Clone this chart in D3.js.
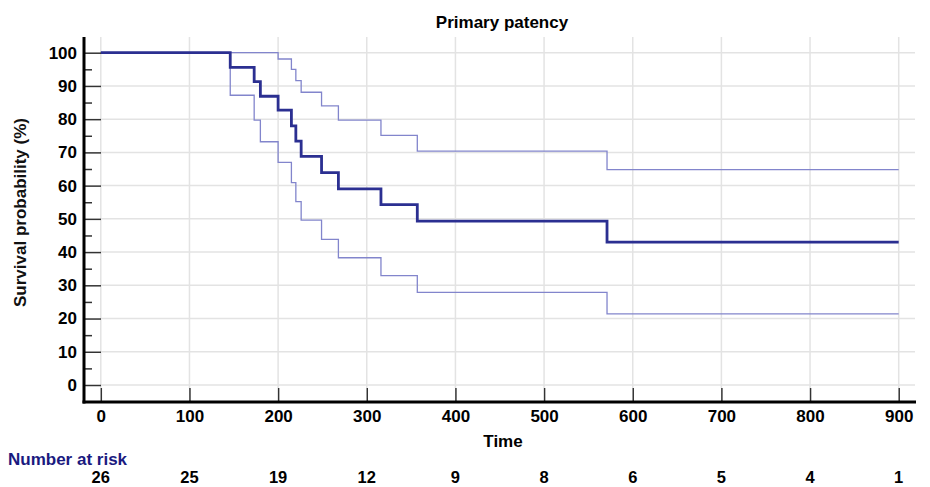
<!DOCTYPE html>
<html>
<head>
<meta charset="utf-8">
<script src="https://cdn.jsdelivr.net/npm/d3@7"></script>
<style>
  body { margin: 0; background: #fff; }
  text { font-family: "Liberation Sans", Arial, sans-serif; font-weight: bold; }
</style>
</head>
<body>
<script>
// Kaplan-Meier estimate (step after)
var kmTimes = [0, 146, 173, 180, 200, 215, 220, 226, 249, 268, 316, 357, 571, 900];
var kmSurvival = [100, 95.6, 91.3, 86.9, 82.7, 78.0, 73.4, 68.8, 63.9, 59.0, 54.3, 49.3, 43.0, 43.0];

// 95% CI upper / lower
var upperTimes = [0, 200, 215, 220, 226, 249, 268, 316, 357, 571, 900];
var upperValues = [100, 98.1, 95.0, 91.6, 88.1, 84.0, 79.7, 75.1, 70.4, 64.8, 64.8];
var lowerTimes = [0, 146, 173, 180, 200, 215, 220, 226, 249, 268, 316, 357, 571, 900];
var lowerValues = [100, 87.2, 79.7, 73.2, 67.0, 60.9, 55.2, 49.6, 43.8, 38.3, 32.9, 27.9, 21.4, 21.4];

var xTicks = [0, 100, 200, 300, 400, 500, 600, 700, 800, 900];
var yTicks = [0, 10, 20, 30, 40, 50, 60, 70, 80, 90, 100];
var yMinorTicks = [5, 15, 25, 35, 45, 55, 65, 75, 85, 95];
var riskCounts = [26, 25, 19, 12, 9, 8, 6, 5, 4, 1];

var main = function() {
  var width = 930, height = 487;
  var axisX = 84, axisY = 402;

  var svg = d3.select("body").append("svg")
    .attr("width", width)
    .attr("height", height);

  var x = d3.scaleLinear().domain([0, 900]).range([100.8, 898.7]);
  var y = d3.scaleLinear().domain([0, 100]).range([385, 52.7]);

  // grid
  var grid = svg.append("g");
  grid.selectAll(".hg").data(yTicks).enter().append("line")
    .attr("x1", x(0)).attr("x2", 915)
    .attr("y1", d => y(d)).attr("y2", d => y(d))
    .attr("stroke", "#e3e3e3").attr("stroke-width", 1.5);
  grid.selectAll(".vg").data(xTicks).enter().append("line")
    .attr("x1", d => x(d)).attr("x2", d => x(d))
    .attr("y1", 37).attr("y2", axisY - 14)
    .attr("stroke", "#e3e3e3").attr("stroke-width", 1.5);

  var stepLine = function(ts, vs) {
    return d3.line()
      .x(function(d, i) { return x(ts[i]); })
      .y(function(d, i) { return y(vs[i]); })
      .curve(d3.curveStepAfter)(vs);
  };

  svg.append("path").attr("d", stepLine(upperTimes, upperValues))
    .attr("fill", "none").attr("stroke", "#8285cc").attr("stroke-width", 1.3);
  svg.append("path").attr("d", stepLine(lowerTimes, lowerValues))
    .attr("fill", "none").attr("stroke", "#8285cc").attr("stroke-width", 1.3);
  svg.append("path").attr("d", stepLine(kmTimes, kmSurvival))
    .attr("fill", "none").attr("stroke", "#2b2f91").attr("stroke-width", 2.8);

  // y axis
  var yAxis = d3.axisLeft(y).tickValues(yTicks).tickSizeInner(-17).tickSizeOuter(0).tickPadding(7);
  var gy = svg.append("g").attr("transform", "translate(" + axisX + ",0)").call(yAxis);
  gy.select(".domain").remove();
  gy.selectAll(".tick line").attr("stroke", "#333").attr("stroke-width", 1.5);
  gy.selectAll(".tick text").attr("font-size", 17).attr("fill", "#000")
    .style("font-family", "Liberation Sans, Arial, sans-serif").style("font-weight", "bold");

  var yMinor = d3.axisLeft(y).tickValues(yMinorTicks).tickSizeInner(-8).tickSizeOuter(0).tickFormat("");
  var gym = svg.append("g").attr("transform", "translate(" + axisX + ",0)").call(yMinor);
  gym.select(".domain").remove();
  gym.selectAll(".tick line").attr("stroke", "#333").attr("stroke-width", 1.5);

  // x axis
  var xAxis = d3.axisBottom(x).tickValues(xTicks).tickSizeInner(-14).tickSizeOuter(0).tickPadding(8);
  var gx = svg.append("g").attr("transform", "translate(0," + axisY + ")").call(xAxis);
  gx.select(".domain").remove();
  gx.selectAll(".tick line").attr("stroke", "#333").attr("stroke-width", 1.5);
  gx.selectAll(".tick text").attr("font-size", 17).attr("fill", "#000")
    .style("font-family", "Liberation Sans, Arial, sans-serif").style("font-weight", "bold");

  // axis lines
  svg.append("line").attr("x1", axisX).attr("x2", axisX).attr("y1", 37).attr("y2", axisY + 1.5)
    .attr("stroke", "#000").attr("stroke-width", 3);
  svg.append("line").attr("x1", axisX - 1.5).attr("x2", 916).attr("y1", axisY).attr("y2", axisY)
    .attr("stroke", "#000").attr("stroke-width", 3);

  // titles
  svg.append("text").attr("x", 502).attr("y", 27.5).attr("text-anchor", "middle")
    .attr("font-size", 17).text("Primary patency");
  svg.append("text").attr("x", 503).attr("y", 447).attr("text-anchor", "middle")
    .attr("font-size", 17).text("Time");
  svg.append("text").attr("transform", "translate(26,212.5) rotate(-90)").attr("text-anchor", "middle")
    .attr("font-size", 17).attr("fill", "#111").text("Survival probability (%)");

  // number at risk
  svg.append("text").attr("x", 8).attr("y", 465).attr("font-size", 17).attr("fill", "#1a1a80")
    .text("Number at risk");
  svg.selectAll(".risk").data(riskCounts).enter().append("text")
    .attr("x", (d, i) => x(xTicks[i])).attr("y", 483).attr("text-anchor", "middle")
    .attr("font-size", 16.5).attr("fill", "#000")
    .text(d => d);
}

main();
</script>
</body>
</html>
